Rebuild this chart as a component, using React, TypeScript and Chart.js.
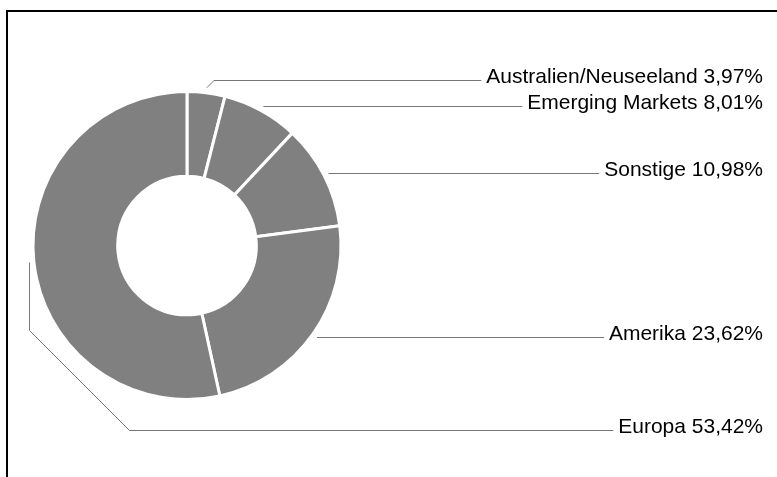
import React, { useEffect, useRef } from "react";
import { Chart, registerables, ArcElement } from "chart.js";

Chart.register(...registerables);

const categories = ["Australien/Neuseeland", "Emerging Markets", "Sonstige", "Amerika", "Europa"];
const shares = [3.97, 8.01, 10.98, 23.62, 53.42];

const fmt = (v: number) => v.toFixed(2).replace(".", ",") + "%";

const leaderPlugin = {
  id: "leaderLabels",
  afterDraw(chart: any) {
    const ctx: CanvasRenderingContext2D = chart.ctx;
    const meta = chart.getDatasetMeta(0);
    const arcs = meta.data as ArcElement[];
    const textRight = 763;
    const gap = 26;
    const items = arcs.map((arc: any, i: number) => {
      const p = arc.getProps(["x", "y", "startAngle", "endAngle", "outerRadius"], true);
      const mid = (p.startAngle + p.endAngle) / 2;
      const r = p.outerRadius + 5;
      return {
        i,
        px: p.x + Math.cos(mid) * r,
        py: p.y + Math.sin(mid) * r,
        right: Math.cos(mid) >= 0,
        cy: p.y,
        R: p.outerRadius,
        ly: 0,
      };
    });
    const rightItems = items.filter((d) => d.right).sort((a, b) => a.py - b.py);
    rightItems.forEach((d) => (d.ly = d.py));
    for (let k = rightItems.length - 2; k >= 0; k--) {
      rightItems[k].ly = Math.min(rightItems[k].ly, rightItems[k + 1].ly - gap);
    }
    const leftItems = items.filter((d) => !d.right);
    leftItems.forEach((d, k) => (d.ly = d.cy + d.R + 30 + k * gap));

    ctx.save();
    ctx.font = '21px "Liberation Sans", Arial, Helvetica, sans-serif';
    ctx.textAlign = "right";
    ctx.textBaseline = "alphabetic";
    ctx.strokeStyle = "#777777";
    ctx.lineWidth = 1;
    items.forEach((d) => {
      const label = categories[d.i] + " " + fmt(shares[d.i]);
      const w = ctx.measureText(label).width;
      const endX = textRight - w - 5;
      const ly = Math.round(d.ly) + 0.5;
      ctx.beginPath();
      ctx.moveTo(d.px, d.py);
      if (d.right) {
        const dy = Math.abs(ly - d.py);
        if (dy > 1) ctx.lineTo(d.px + dy, ly);
        else ctx.moveTo(d.px, ly);
      } else {
        const diag = 100;
        const vx = Math.round(d.px) + 0.5;
        ctx.moveTo(vx, d.py);
        ctx.lineTo(vx, ly - diag);
        ctx.lineTo(vx + diag, ly);
      }
      ctx.lineTo(endX, ly);
      ctx.stroke();
      ctx.fillStyle = "#000";
      ctx.fillText(label, textRight, ly + 2);
    });
    ctx.restore();
  },
};

export default function App() {
  const ref = useRef<HTMLCanvasElement>(null);
  useEffect(() => {
    if (!ref.current) return;
    const chart = new Chart(ref.current, {
      type: "doughnut",
      data: {
        labels: categories,
        datasets: [
          {
            data: shares,
            backgroundColor: "#808080",
            borderColor: "#ffffff",
            borderWidth: 3,
            hoverOffset: 0,
          },
        ],
      },
      options: {
        responsive: true,
        maintainAspectRatio: false,
        animation: false,
        cutout: "45%",
        rotation: 0,
        layout: { padding: { left: 31.5, top: 90, bottom: 76, right: 434.5 } },
        plugins: { legend: { display: false }, tooltip: { enabled: false } },
        events: [],
      },
      plugins: [leaderPlugin],
    });
    return () => chart.destroy();
  }, []);
  return (
    <>
      <div
        style={{
          position: "fixed",
          left: 0,
          top: 0,
          width: 777,
          height: 477,
          background: "#fff",
        }}
      >
        <canvas ref={ref} />
      </div>
      <div
        style={{
          position: "fixed",
          left: 6,
          top: 10,
          width: 800,
          height: 500,
          borderTop: "2px solid #000",
          borderLeft: "2px solid #000",
          pointerEvents: "none",
        }}
      />
    </>
  );
}
